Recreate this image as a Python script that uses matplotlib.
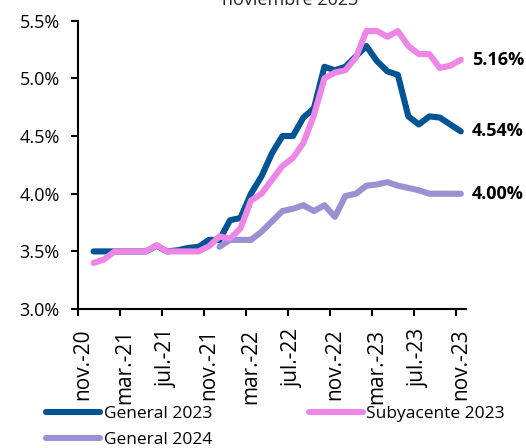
import numpy as np
import matplotlib
matplotlib.use("Agg")
import matplotlib.pyplot as plt
import matplotlib.transforms as mtransforms
from matplotlib.lines import Line2D

plt.rcParams['font.family'] = ['Open Sans', 'DejaVu Sans']

# months nov-20 .. nov-23
months = ['nov.-20', 'dic.-20', 'ene.-21', 'feb.-21', 'mar.-21', 'abr.-21', 'may.-21', 'jun.-21',
          'jul.-21', 'ago.-21', 'sep.-21', 'oct.-21', 'nov.-21', 'dic.-21', 'ene.-22', 'feb.-22',
          'mar.-22', 'abr.-22', 'may.-22', 'jun.-22', 'jul.-22', 'ago.-22', 'sep.-22', 'oct.-22',
          'nov.-22', 'dic.-22', 'ene.-23', 'feb.-23', 'mar.-23', 'abr.-23', 'may.-23', 'jun.-23',
          'jul.-23', 'ago.-23', 'sep.-23', 'oct.-23', 'nov.-23']

# General 2023 expectations, dic.-20 .. nov.-23
general_2023 = [3.50, 3.50, 3.50, 3.50, 3.50, 3.50, 3.55, 3.50, 3.51, 3.53, 3.54, 3.60,
                3.60, 3.77, 3.79, 4.00, 4.15, 4.35, 4.50, 4.50, 4.66, 4.74, 5.10, 5.07,
                5.10, 5.19, 5.28, 5.15, 5.06, 5.03, 4.67, 4.60, 4.67, 4.66, 4.60, 4.54]
# Subyacente 2023, dic.-20 .. nov.-23
subyacente_2023 = [3.40, 3.43, 3.50, 3.50, 3.50, 3.50, 3.555, 3.50, 3.50, 3.50, 3.50, 3.545,
                   3.63, 3.61, 3.70, 3.94, 4.00, 4.12, 4.24, 4.31, 4.44, 4.68, 5.00, 5.05,
                   5.07, 5.18, 5.41, 5.41, 5.36, 5.41, 5.28, 5.21, 5.21, 5.09, 5.11, 5.16]
# General 2024, dic.-21 .. nov.-23
general_2024 = [3.54, 3.60, 3.60, 3.60, 3.67, 3.76, 3.85, 3.87, 3.90, 3.85, 3.90, 3.80,
                3.98, 4.00, 4.07, 4.08, 4.10, 4.07, 4.05, 4.03, 4.00, 4.00, 4.00, 4.00]

series_names = ['General 2023', 'Subyacente 2023', 'General 2024']
colors = ['#005493', '#EE86E8', '#9A90D2']
end_labels = ['4.54%', '5.16%', '4.00%']
title = 'Expectativas de inflación\nnoviembre 2023'

n = len(months)
x_all = np.arange(n)
x_g23 = x_all[n - len(general_2023):]
x_s23 = x_all[n - len(subyacente_2023):]
x_g24 = x_all[n - len(general_2024):]

fig = plt.figure(figsize=(5.26, 4.48), dpi=100)
ax = fig.add_axes([0.148, 0.310, 0.738, 0.644])

lw = 4.4
ax.plot(x_g24, general_2024, color=colors[2], lw=lw, solid_capstyle='round', solid_joinstyle='round', zorder=2)
ax.plot(x_g23, general_2023, color=colors[0], lw=lw, solid_capstyle='round', solid_joinstyle='round', zorder=3)
ax.plot(x_s23, subyacente_2023, color=colors[1], lw=lw, solid_capstyle='round', solid_joinstyle='round', zorder=4)

ax.set_xlim(-0.5, n - 0.5)
ax.set_ylim(3.0, 5.5)
ax.set_yticks(np.arange(3.0, 5.51, 0.5))
ax.set_yticklabels([f'{v:.1f}%' for v in np.arange(3.0, 5.51, 0.5)], fontsize=13)

lab_idx = np.arange(0, n, 4)
ax.set_xticks(lab_idx)
ax.set_xticklabels([months[i] for i in lab_idx], rotation=90, fontsize=15)
offset = mtransforms.ScaledTranslation(4 / 100, 0, fig.dpi_scale_trans)
for lbl in ax.get_xticklabels():
    lbl.set_transform(lbl.get_transform() + offset)
ax.set_xticks(lab_idx - 0.5, minor=True)
ax.tick_params(axis='x', which='major', length=0, pad=14)
ax.tick_params(axis='x', which='minor', length=5, width=1.5, direction='out')
ax.tick_params(axis='y', length=5, width=1.5, direction='out', pad=8)

for s in ['top', 'right']:
    ax.spines[s].set_visible(False)
for s in ['left', 'bottom']:
    ax.spines[s].set_linewidth(1.5)

# end labels
ax.annotate(end_labels[1], (x_s23[-1], subyacente_2023[-1]), xytext=(8, 0), textcoords='offset points',
            va='center', ha='left', fontsize=13, fontweight='bold', annotation_clip=False)
ax.annotate(end_labels[0], (x_g23[-1], general_2023[-1]), xytext=(8, 0), textcoords='offset points',
            va='center', ha='left', fontsize=13, fontweight='bold', annotation_clip=False)
ax.annotate(end_labels[2], (x_g24[-1], general_2024[-1]), xytext=(8, 0), textcoords='offset points',
            va='center', ha='left', fontsize=13, fontweight='bold', annotation_clip=False)

# partially visible title
fig.text(0.552, 0.989, title, ha='center', va='baseline', fontsize=13, color='#262626')

handles = [Line2D([], [], color=colors[0], lw=lw, solid_capstyle='round'),
           Line2D([], [], color=colors[2], lw=lw, solid_capstyle='round'),
           Line2D([], [], color=colors[1], lw=lw, solid_capstyle='round')]
labels = [series_names[0], series_names[2], series_names[1]]
fig.legend(handles, labels, ncol=2, loc='upper left', bbox_to_anchor=(0.088, 0.093),
           frameon=False, fontsize=12.5, handlelength=3.1, handletextpad=0.2,
           columnspacing=5.6, labelspacing=0.55, borderaxespad=0, borderpad=0)

fig.savefig('out.png', dpi=100)
